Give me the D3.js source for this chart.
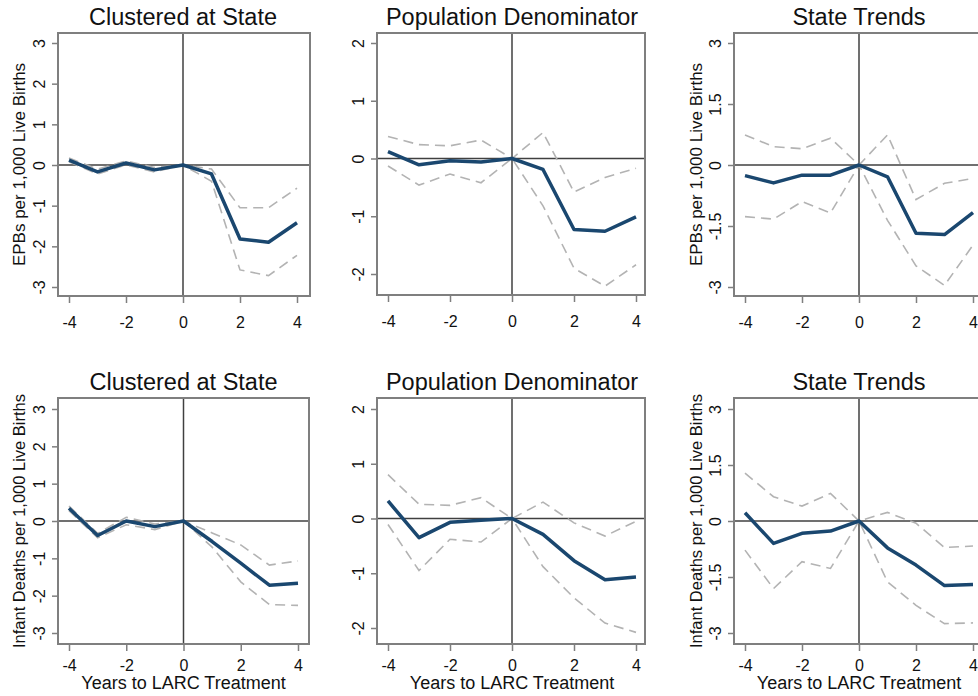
<!DOCTYPE html>
<html>
<head>
<meta charset="utf-8">
<script src="https://cdn.jsdelivr.net/npm/d3@7"></script>
<style>
  body { margin: 0; background: #fff; }
  text { font-family: "Liberation Sans", Arial, sans-serif; }
</style>
</head>
<body>
<div id="chart"></div>
<script>
// Years relative to LARC treatment
const years = [-4, -3, -2, -1, 0, 1, 2, 3, 4];

// EPBs per 1,000 live births
const epbClusteredEst = [0.12, -0.17, 0.05, -0.12, 0, -0.22, -1.82, -1.90, -1.42];
const epbClusteredHi  = [0.17, -0.10, 0.10, -0.06, 0, -0.10, -1.05, -1.05, -0.57];
const epbClusteredLo  = [0.08, -0.22, 0.00, -0.17, 0, -0.40, -2.58, -2.72, -2.22];

const epbPopEst = [0.12, -0.11, -0.04, -0.06, 0, -0.19, -1.23, -1.26, -1.01];
const epbPopHi  = [0.38, 0.24, 0.22, 0.32, 0, 0.45, -0.58, -0.33, -0.17];
const epbPopLo  = [-0.13, -0.46, -0.27, -0.42, 0, -0.82, -1.90, -2.21, -1.84];

const epbTrendEst = [-0.26, -0.44, -0.25, -0.25, 0, -0.29, -1.68, -1.71, -1.17];
const epbTrendHi  = [0.74, 0.45, 0.40, 0.66, 0, 0.74, -0.85, -0.45, -0.33];
const epbTrendLo  = [-1.27, -1.33, -0.90, -1.18, 0, -1.36, -2.48, -2.96, -1.97];

// Infant deaths per 1,000 live births
const idClusteredEst = [0.34, -0.39, 0.00, -0.15, 0, -0.55, -1.13, -1.72, -1.67];
const idClusteredHi  = [0.40, -0.33, 0.10, -0.08, 0, -0.32, -0.64, -1.18, -1.07];
const idClusteredLo  = [0.28, -0.45, -0.10, -0.23, 0, -0.70, -1.63, -2.24, -2.26];

const idPopEst = [0.32, -0.35, -0.07, -0.03, 0, -0.29, -0.77, -1.12, -1.07];
const idPopHi  = [0.80, 0.26, 0.24, 0.38, 0, 0.30, -0.08, -0.32, -0.05];
const idPopLo  = [-0.11, -0.95, -0.38, -0.43, 0, -0.88, -1.45, -1.91, -2.08];

const idTrendEst = [0.22, -0.60, -0.33, -0.27, 0, -0.72, -1.18, -1.73, -1.70];
const idTrendHi  = [1.28, 0.65, 0.40, 0.74, 0, 0.23, -0.06, -0.71, -0.67];
const idTrendLo  = [-0.78, -1.81, -1.09, -1.27, 0, -1.63, -2.26, -2.75, -2.73];

// Axis ticks and labels
const xTicks = [-4, -2, 0, 2, 4];
const yTicksWide = [-3, -2, -1, 0, 1, 2, 3];
const yTicksPop = [-2, -1, 0, 1, 2];
const yTicksTrend = [-3, -1.5, 0, 1.5, 3];
// plain hyphen for negatives, as in the original
const tickFormat = d => String(d);
const titles = ["Clustered at State", "Population Denominator", "State Trends"];
const yLabels = ["EPBs per 1,000 Live Births", "Infant Deaths per 1,000 Live Births"];
const xLabel = "Years to LARC Treatment";

// panel layout: box edges and pixel positions of the outer ticks
const panels = [
  {title: titles[0], est: epbClusteredEst, hi: epbClusteredHi, lo: epbClusteredLo, yTicks: yTicksWide,
   box: [58, 310, 33, 296], xr: [69, 297], yd: [-3, 3], yr: [287, 43], ylab: yLabels[0], ylabX: 25, row: 0},
  {title: titles[1], est: epbPopEst, hi: epbPopHi, lo: epbPopLo, yTicks: yTicksPop,
   box: [377, 645, 33, 295], xr: [388, 636], yd: [-2, 2], yr: [274, 43], ylab: null, row: 0},
  {title: titles[2], est: epbTrendEst, hi: epbTrendHi, lo: epbTrendLo, yTicks: yTicksTrend,
   box: [734, 986, 33, 296], xr: [745, 973], yd: [-3, 3], yr: [287, 43], ylab: yLabels[0], ylabX: 702, row: 0},
  {title: titles[0], est: idClusteredEst, hi: idClusteredHi, lo: idClusteredLo, yTicks: yTicksWide,
   box: [58, 309, 398, 644], xr: [69, 298], yd: [-3, 3], yr: [633, 409], ylab: yLabels[1], ylabX: 25, row: 1},
  {title: titles[1], est: idPopEst, hi: idPopHi, lo: idPopLo, yTicks: yTicksPop,
   box: [377, 645, 398, 644], xr: [388, 636], yd: [-2, 2], yr: [628, 409], ylab: null, row: 1},
  {title: titles[2], est: idTrendEst, hi: idTrendHi, lo: idTrendLo, yTicks: yTicksTrend,
   box: [734, 986, 398, 644], xr: [745, 973], yd: [-3, 3], yr: [633, 409], ylab: yLabels[1], ylabX: 702, row: 1}
];

const svg = d3.select("#chart")
  .append("svg")
    .attr("width", 978)
    .attr("height", 696);

const navy = "#1a476f";
const frameGrey = "#7f7f7f";

panels.forEach(p => {
  const [x0, x1, y0, y1] = p.box;
  const xScale = d3.scaleLinear().domain([-4, 4]).range(p.xr);
  const yScale = d3.scaleLinear().domain(p.yd).range(p.yr);
  const g = svg.append("g");

  // title above the box, centred on year 0
  g.append("text")
    .attr("x", xScale(0))
    .attr("y", p.row === 0 ? 25 : 390)
    .attr("text-anchor", "middle")
    .attr("font-size", "23.5px")
    .attr("fill", "#111")
    .text(p.title);

  // zero reference lines
  g.append("line")
    .attr("x1", x0).attr("x2", x1)
    .attr("y1", yScale(0)).attr("y2", yScale(0))
    .attr("stroke", "#404040").attr("stroke-width", 1.5);
  g.append("line")
    .attr("x1", xScale(0)).attr("x2", xScale(0))
    .attr("y1", y0).attr("y2", y1)
    .attr("stroke", "#404040").attr("stroke-width", 1.5);

  // confidence bands (dashed) and point estimates
  const line = arr => d3.line()
    .x((d, i) => xScale(years[i]))
    .y(d => yScale(d))(arr);

  [p.hi, p.lo].forEach(ci => {
    g.append("path")
      .attr("d", line(ci))
      .attr("fill", "none")
      .attr("stroke", "#b3b3b3")
      .attr("stroke-width", 1.6)
      .attr("stroke-dasharray", "10,6");
  });

  g.append("path")
    .attr("d", line(p.est))
    .attr("fill", "none")
    .attr("stroke", navy)
    .attr("stroke-width", 3.5)
    .attr("stroke-linejoin", "round");

  // plot region frame
  g.append("rect")
    .attr("x", x0).attr("y", y0)
    .attr("width", x1 - x0).attr("height", y1 - y0)
    .attr("fill", "none")
    .attr("stroke", frameGrey)
    .attr("stroke-width", 2);

  // x axis ticks + labels
  const xAxis = g.append("g")
    .attr("transform", "translate(0," + y1 + ")")
    .call(d3.axisBottom(xScale).tickValues(xTicks).tickSize(7).tickFormat(tickFormat));
  xAxis.select(".domain").remove();
  xAxis.selectAll("line").attr("stroke", frameGrey).attr("stroke-width", 1.5);
  xAxis.selectAll("text")
    .attr("y", p.row === 0 ? 32 : 27)
    .attr("dy", null)
    .attr("font-size", "16px")
    .attr("font-family", "Liberation Sans, Arial, sans-serif")
    .attr("fill", "#111");

  // y axis ticks + rotated labels
  const yAxis = g.append("g")
    .attr("transform", "translate(" + x0 + ",0)")
    .call(d3.axisLeft(yScale).tickValues(p.yTicks).tickSize(6).tickFormat(tickFormat));
  yAxis.select(".domain").remove();
  yAxis.selectAll("line").attr("stroke", frameGrey).attr("stroke-width", 1.5);
  yAxis.selectAll("text")
    .attr("x", null).attr("dy", null)
    .attr("text-anchor", "middle")
    .attr("transform", "translate(-13,0) rotate(-90)")
    .attr("font-size", "16px")
    .attr("font-family", "Liberation Sans, Arial, sans-serif")
    .attr("fill", "#111");

  // y axis title
  if (p.ylab) {
    g.append("text")
      .attr("transform", "translate(" + p.ylabX + "," + ((y0 + y1) / 2) + ") rotate(-90)")
      .attr("text-anchor", "middle")
      .attr("font-size", p.row === 0 ? "17px" : "16.5px")
      .attr("fill", "#111")
      .text(p.ylab);
  }

  // x axis title on the bottom row
  if (p.row === 1) {
    g.append("text")
      .attr("x", xScale(0))
      .attr("y", 689)
      .attr("text-anchor", "middle")
      .attr("font-size", "18px")
      .attr("fill", "#111")
      .text(xLabel);
  }
});
</script>
</body>
</html>
